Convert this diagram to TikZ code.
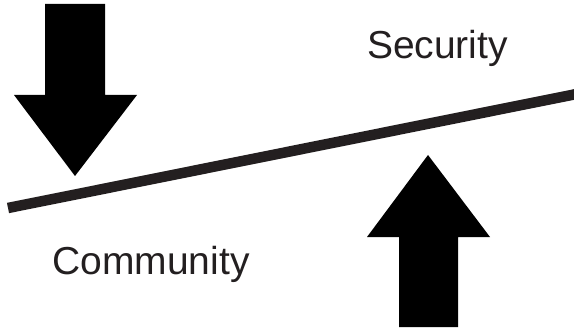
\documentclass[tikz,border=0pt]{standalone}
\usepackage{fontspec}
\setmainfont{Liberation Sans}
\definecolor{quasepreto}{HTML}{231F20}

\begin{document}
\begin{tikzpicture}[x=1pt,y=-1pt]
\useasboundingbox (0,0) rectangle (574,329);

% Seta para baixo
\fill[black] (45,4) -- (105,4) -- (105,95) -- (137,95) -- (75,176) -- (14,95) -- (45,95) -- cycle;

% Seta para cima
\fill[black] (399,327) -- (458,327) -- (458,237) -- (490,237) -- (428,155) -- (367,237) -- (399,237) -- cycle;

% Alavanca
\draw[quasepreto, line width=10.5pt] (8,208) -- (580,93.3);

% Textos
\node[anchor=base, text=quasepreto, inner sep=0pt] (seguranca) at (437.5,59) {\fontsize{39}{41}\selectfont Security};
\node[anchor=base, text=quasepreto, inner sep=0pt] (comunidade) at (151,274) {\fontsize{39}{41}\selectfont Community};

\end{tikzpicture}
\end{document}
